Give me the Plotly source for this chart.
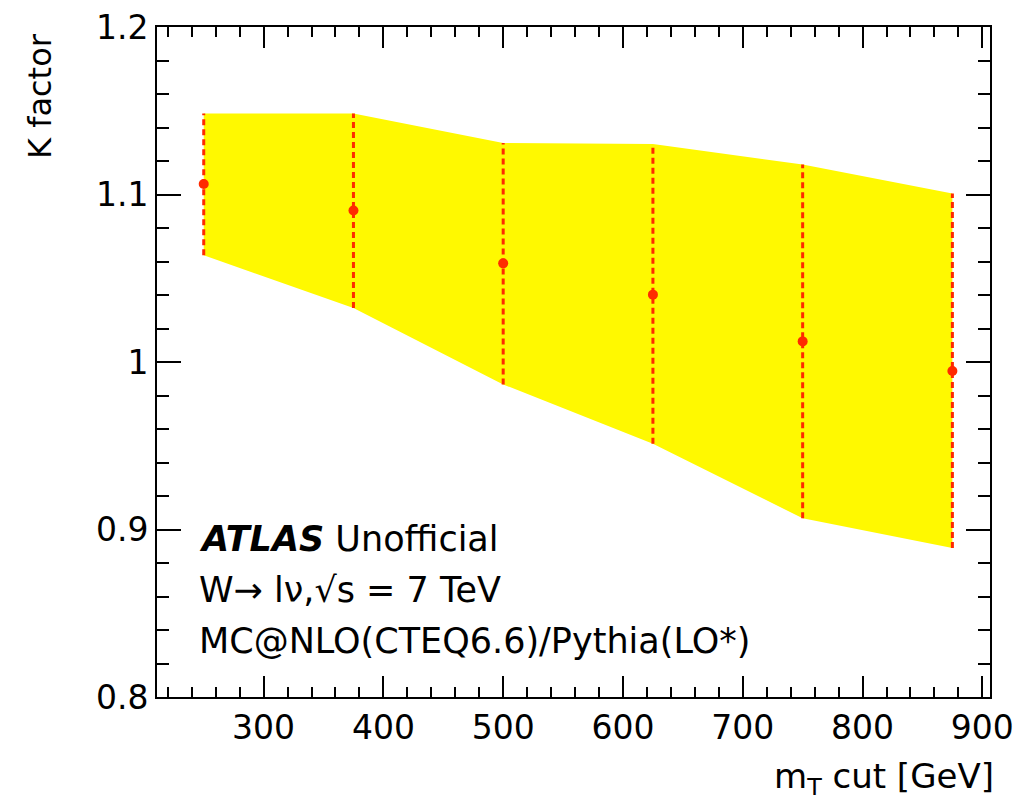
import plotly.graph_objects as go

# Data
mt_cut = [250, 375, 500, 625, 750, 875]
k_factor = [1.1063, 1.0904, 1.0589, 1.0402, 1.0123, 0.9946]
band_upper = [1.1484, 1.1484, 1.1308, 1.1301, 1.1179, 1.1006]
band_lower = [1.0637, 1.0322, 0.9866, 0.9512, 0.9067, 0.8890]

x_ticks = [300, 400, 500, 600, 700, 800, 900]
y_ticks = [0.8, 0.9, 1.0, 1.1, 1.2]
y_ticklabels = ["0.8", "0.9", "1", "1.1", "1.2"]

FONT = "DejaVu Sans, Liberation Sans, Arial, sans-serif"
RED = "#ff2a00"
YELLOW = "#fff900"

fig = go.Figure()

# Yellow uncertainty band
fig.add_trace(go.Scatter(
    x=mt_cut + mt_cut[::-1],
    y=band_upper + band_lower[::-1],
    fill="toself", fillcolor=YELLOW, mode="none",
    line=dict(width=0), hoverinfo="skip", showlegend=False,
))

# Dashed vertical uncertainty lines
vx, vy = [], []
for x, lo, hi in zip(mt_cut, band_lower, band_upper):
    vx += [x, x, None]
    vy += [lo, hi, None]
fig.add_trace(go.Scatter(
    x=vx, y=vy, mode="lines",
    line=dict(color=RED, width=3, dash="6px,4px"),
    showlegend=False, hoverinfo="skip",
))

# Central points
fig.add_trace(go.Scatter(
    x=mt_cut, y=k_factor, mode="markers",
    marker=dict(color=RED, size=10),
    showlegend=False,
))

axis_common = dict(
    showgrid=False, zeroline=False, automargin=False,
    showline=True, linecolor="black", linewidth=2, mirror="ticks",
    ticks="inside", tickcolor="black", tickwidth=1.5,
    tickfont=dict(family=FONT, size=33, color="black"),
)

fig.update_xaxes(
    range=[211, 906.4], tickvals=x_ticks, ticklen=21,
    minor=dict(dtick=20, tick0=0, ticks="inside", ticklen=10, tickcolor="black", tickwidth=1.5),
    **axis_common,
)
fig.update_yaxes(
    range=[0.8, 1.2], tickvals=y_ticks, ticktext=y_ticklabels, ticklen=24,
    minor=dict(dtick=0.02, tick0=0.8, ticks="inside", ticklen=12, tickcolor="black", tickwidth=1.5),
    **axis_common,
)

W, H = 1017, 802
L, R, T, B = 157, 27, 27, 105
pw, ph = W - L - R, H - T - B

def px_x(p):
    return (p - L) / pw

def px_y(p):
    return (H - B - p) / ph

ann_font = dict(family=FONT, size=35, color="black")
annotations = [
    dict(text="<b><i>ATLAS</i></b> Unofficial", x=px_x(197), y=px_y(539)),
    dict(text="W\u2192 l\u03bd,\u221as = 7 TeV", x=px_x(197), y=px_y(590)),
    dict(text="MC@NLO(CTEQ6.6)/Pythia(LO*)", x=px_x(197), y=px_y(641)),
]
for a in annotations:
    a.update(xref="paper", yref="paper", xanchor="left", yanchor="middle",
             showarrow=False, font=ann_font)

annotations.append(dict(
    text="m<sub>T</sub> cut [GeV]", xref="paper", yref="paper",
    x=px_x(996), y=px_y(778), xanchor="right", yanchor="middle",
    showarrow=False, font=dict(family=FONT, size=34, color="black"),
))
annotations.append(dict(
    text="K factor", xref="paper", yref="paper",
    x=px_x(40), y=px_y(96), xanchor="center", yanchor="middle", textangle=-90,
    showarrow=False, font=dict(family=FONT, size=32, color="black"),
))

fig.update_layout(
    width=W, height=H,
    margin=dict(l=L, r=R, t=T, b=B, pad=0, autoexpand=False),
    paper_bgcolor="white", plot_bgcolor="white",
    annotations=annotations,
    showlegend=False,
)

fig.write_html("out.html")
